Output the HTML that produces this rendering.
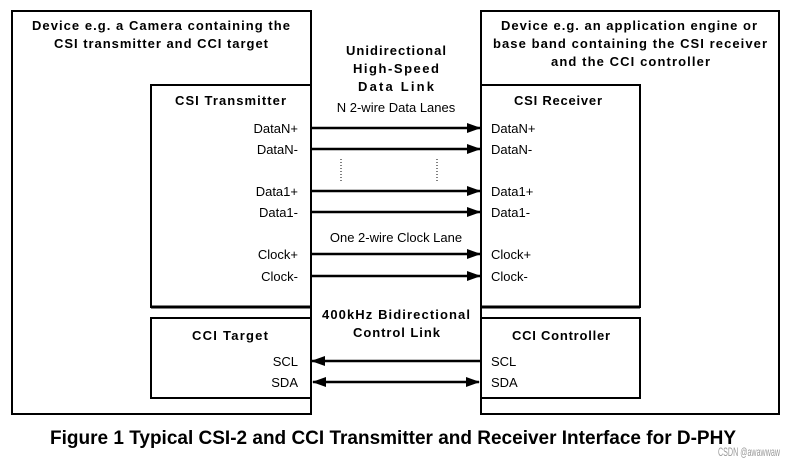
<!DOCTYPE html>
<html><head><style>body{margin:0;background:#fff}svg{display:block}</style></head><body>
<svg width="808" height="465" viewBox="0 0 808 465" xmlns="http://www.w3.org/2000/svg" font-family="Liberation Sans, sans-serif">
<defs>
<marker id="a" markerWidth="14" markerHeight="10" refX="13" refY="5" orient="auto" markerUnits="userSpaceOnUse"><path d="M0,0 L14,5 L0,10 z" fill="#000"/></marker>
<marker id="b" markerWidth="14" markerHeight="10" refX="1" refY="5" orient="auto" markerUnits="userSpaceOnUse"><path d="M14,0 L0,5 L14,10 z" fill="#000"/></marker>
</defs>
<g fill="none" stroke="#000" stroke-width="2">
<rect x="12" y="11" width="299" height="403"/>
<rect x="481" y="11" width="298" height="403"/>
<rect x="151" y="85" width="160" height="222" fill="#fff"/>
<rect x="481" y="85" width="159" height="222" fill="#fff"/>
<rect x="151" y="318" width="160" height="80" fill="#fff"/>
<rect x="481" y="318" width="159" height="80" fill="#fff"/>
</g>
<line x1="151" y1="307" x2="311" y2="307" stroke="#000" stroke-width="3"/>
<line x1="481" y1="307" x2="640" y2="307" stroke="#000" stroke-width="3"/>
<g stroke="#000" stroke-width="2.5">
<line x1="311" y1="128" x2="480" y2="128" marker-end="url(#a)"/>
<line x1="311" y1="149" x2="480" y2="149" marker-end="url(#a)"/>
<line x1="311" y1="191" x2="480" y2="191" marker-end="url(#a)"/>
<line x1="311" y1="212" x2="480" y2="212" marker-end="url(#a)"/>
<line x1="311" y1="254" x2="480" y2="254" marker-end="url(#a)"/>
<line x1="311" y1="276" x2="480" y2="276" marker-end="url(#a)"/>
<line x1="480" y1="361" x2="312" y2="361" marker-end="url(#a)"/>
<line x1="313" y1="382" x2="479" y2="382" marker-start="url(#b)" marker-end="url(#a)"/>
</g>
<g stroke="#000" stroke-width="1" stroke-dasharray="1,2">
<line x1="341" y1="159" x2="341" y2="181"/>
<line x1="437" y1="159" x2="437" y2="181"/>
</g>
<g font-size="13" font-weight="bold" fill="#000">
<text x="32" y="30" textLength="258">Device e.g. a Camera containing the</text>
<text x="54" y="48" textLength="214">CSI transmitter and CCI target</text>
<text x="501" y="30" textLength="256">Device e.g. an application engine or</text>
<text x="493" y="48" textLength="274">base band containing the CSI receiver</text>
<text x="551" y="66" textLength="159">and the CCI controller</text>
<text x="346" y="55" textLength="100">Unidirectional</text>
<text x="353" y="73" textLength="86">High-Speed</text>
<text x="358" y="91" textLength="76">Data  Link</text>
<text x="175" y="105" textLength="111">CSI Transmitter</text>
<text x="514" y="105" textLength="88">CSI Receiver</text>
<text x="322" y="319" textLength="148">400kHz Bidirectional</text>
<text x="353" y="337" textLength="87">Control Link</text>
<text x="192" y="340" textLength="76">CCI Target</text>
<text x="512" y="340" textLength="98">CCI Controller</text>
</g>
<g font-size="13" fill="#000">
<text x="396" y="112" text-anchor="middle">N 2-wire Data Lanes</text>
<text x="396" y="242" text-anchor="middle">One 2-wire Clock Lane</text>
<g text-anchor="end">
<text x="298" y="133">DataN+</text>
<text x="298" y="154">DataN-</text>
<text x="298" y="196">Data1+</text>
<text x="298" y="217">Data1-</text>
<text x="298" y="259">Clock+</text>
<text x="298" y="281">Clock-</text>
<text x="298" y="366">SCL</text>
<text x="298" y="387">SDA</text>
</g>
<text x="491" y="133">DataN+</text>
<text x="491" y="154">DataN-</text>
<text x="491" y="196">Data1+</text>
<text x="491" y="217">Data1-</text>
<text x="491" y="259">Clock+</text>
<text x="491" y="281">Clock-</text>
<text x="491" y="366">SCL</text>
<text x="491" y="387">SDA</text>
</g>
<text x="50" y="444" font-size="19" font-weight="bold" textLength="686" lengthAdjust="spacingAndGlyphs">Figure 1 Typical CSI-2 and CCI Transmitter and Receiver Interface for D-PHY</text>
<text x="718" y="456" font-size="12" fill="#999" textLength="62" lengthAdjust="spacingAndGlyphs">CSDN @awawwaw</text>
</svg>
</body></html>
